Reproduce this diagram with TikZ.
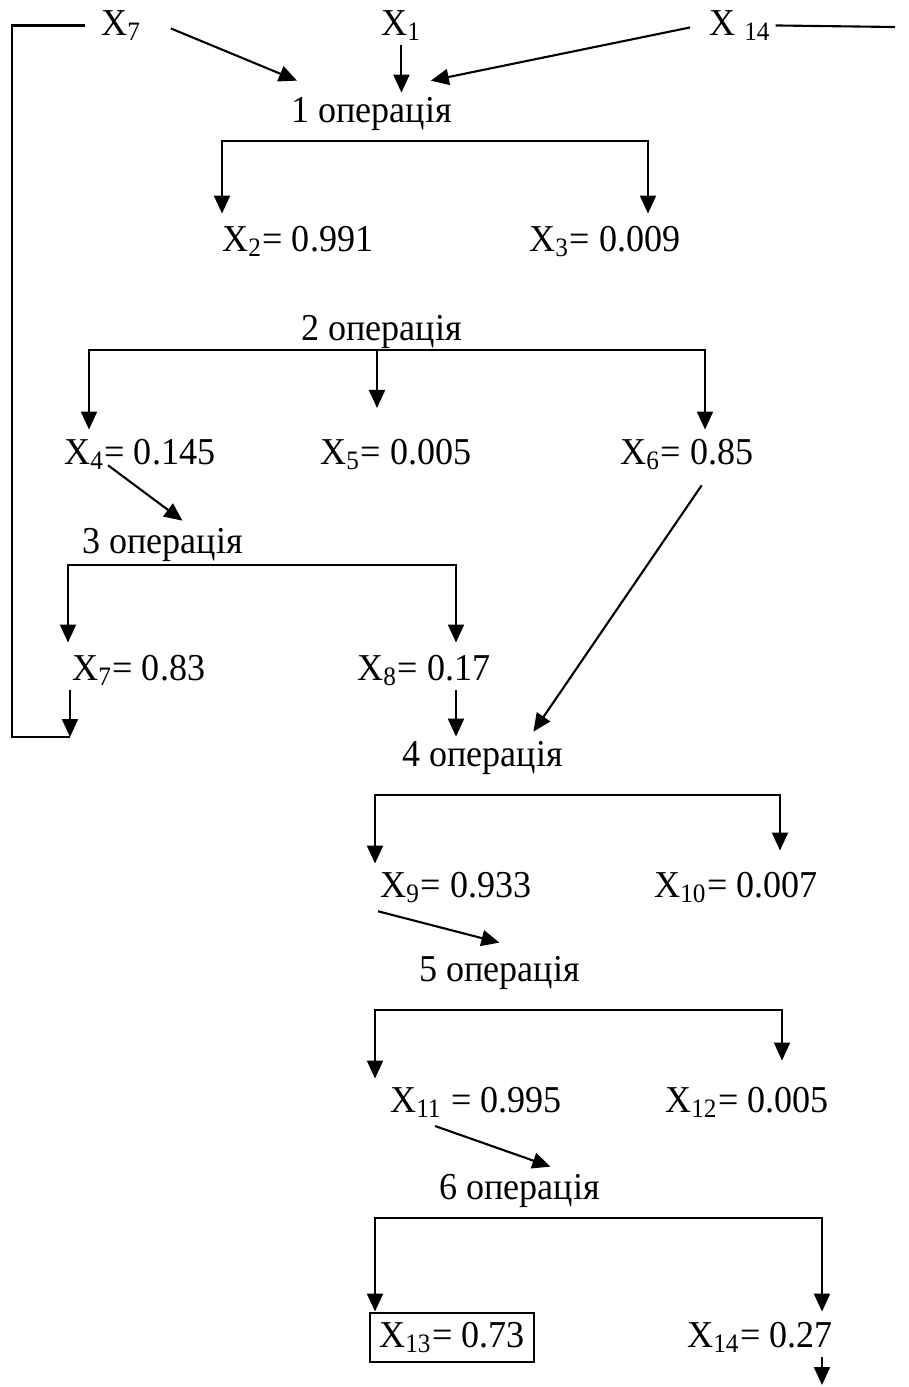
\documentclass[tikz,border=0pt]{standalone}
\usepackage{fontspec}
\setmainfont{Liberation Serif}[FakeStretch=0.95]
\usetikzlibrary{arrows.meta,calc}

\begin{document}
\begin{tikzpicture}[x=0.01cm, y=-0.01cm,
        font=\rmfamily\fontsize{10.8}{13}\selectfont,
        lbl/.style={anchor=base west, inner sep=1pt},
        res/.style={lbl, draw, line width=0.6pt, inner sep=2.6pt},
        ln/.style={line width=0.6pt},
        arr/.style={ln, -{Triangle[length=1.8mm, width=1.6mm]}}
    ]
        \useasboundingbox (0,0) rectangle (908,1387);

        % inputs
        \node[lbl] (x7t) at (97,35) {X\textsubscript{7}};
        \node[lbl] (x1) at (377,35) {X\textsubscript{1}};
        \node[lbl] (x14t) at (705,35) {X \textsubscript{14}};

        % operations
        \node[lbl] (op1) at (287,122) {1 операція};
        \node[lbl] (op2) at (297,340) {2 операція};
        \node[lbl] (op3) at (78,553) {3 операція};
        \node[lbl] (op4) at (398,766) {4 операція};
        \node[lbl] (op5) at (415,981) {5 операція};
        \node[lbl] (op6) at (435,1199) {6 операція};

        % results
        \node[lbl] (x2) at (218,251) {X\textsubscript{2}= 0.991};
        \node[lbl] (x3) at (525,251) {X\textsubscript{3}= 0.009};
        \node[lbl] (x4) at (60,464) {X\textsubscript{4}= 0.145};
        \node[lbl] (x5) at (316,464) {X\textsubscript{5}= 0.005};
        \node[lbl] (x6) at (616,464) {X\textsubscript{6}= 0.85};
        \node[lbl] (x7) at (68,680) {X\textsubscript{7}= 0.83};
        \node[lbl] (x8) at (353,680) {X\textsubscript{8}= 0.17};
        \node[lbl] (x9) at (376,897) {X\textsubscript{9}= 0.933};
        \node[lbl] (x10) at (650,897) {X\textsubscript{10}= 0.007};
        \node[lbl] (x11) at (386,1112) {X\textsubscript{11} = 0.995};
        \node[lbl] (x12) at (661,1112) {X\textsubscript{12}= 0.005};
        \node[res] (x13) at (369,1347) {X\textsubscript{13}= 0.73};
        \node[lbl] (x14) at (683,1347) {X\textsubscript{14}= 0.27};

        % bracket corners and free ends
        \coordinate (b1l) at (222,141);
        \coordinate (b1r) at (648,141);
        \coordinate (b2l) at (89,350);
        \coordinate (b2m) at (377,350);
        \coordinate (b2r) at (705,350);
        \coordinate (b2e) at (377,408);
        \coordinate (b3l) at (68,565);
        \coordinate (b3r) at (456,565);
        \coordinate (b4l) at (375,795);
        \coordinate (b4r) at (780,795);
        \coordinate (b5l) at (375,1010);
        \coordinate (b5r) at (782,1010);
        \coordinate (b6l) at (375,1218);
        \coordinate (b6r) at (822,1218);
        \coordinate (lpb) at (70,737);
        \coordinate (lpl) at (12,737);
        \coordinate (stub) at (895,27);
        \coordinate (out) at (822,1385);

        % into operation 1
        \draw[arr] ($(x7t.east)+(25,3)$) -- ($(op1.north west)+(10,-12)$);
        \draw[arr] (x1) -- (x1 |- op1.north);
        \draw[arr] ($(x14t.west)+(-15,2)$) -- ($(op1.north east)+(-25,-12)$);
        \draw[ln] (x14t.east) -- (stub);

        % operation 1
        \draw[arr] (b1r) -- (b1l) -- ($(b1l |- x2.north)+(0,-8)$);
        \draw[arr] (b1l) -- (b1r) -- ($(b1r |- x3.north)+(0,-8)$);

        % operation 2
        \draw[arr] (b2r) -- (b2l) -- ($(b2l |- x4.north)+(0,-5)$);
        \draw[arr] (b2l) -- (b2r) -- ($(b2r |- x6.north)+(0,-5)$);
        \draw[arr] (b2m) -- (b2e);
        \draw[arr] ($(x4.west)+(48,11)$) -- ($(op3.north)+(20,-3)$);
        \draw[arr] ($(x6.south)+(15,11)$) -- ($(op4.north)+(51,-5)$);

        % operation 3
        \draw[arr] (b3r) -- (b3l) -- ($(b3l |- x7.north)+(0,-8)$);
        \draw[arr] (b3l) -- (b3r) -- ($(b3r |- x8.north)+(0,-8)$);
        \draw[arr] (lpb |- x7.south) -- (lpb);
        \draw[ln] (lpb) -- (lpl) |- ($(x7t.west)+(-12,0)$);
        \draw[arr] (b3r |- x8.south) -- (b3r |- op4.north);

        % operation 4
        \draw[arr] (b4r) -- (b4l) -- ($(b4l |- x9.north)+(0,-4)$);
        \draw[arr] (b4l) -- (b4r) -- ($(b4r |- x10.north)+(0,-17)$);
        \draw[arr] ($(x9.south west)+(2,4)$) -- ($(op5.north)+(0,-9)$);

        % operation 5
        \draw[arr] (b5r) -- (b5l) -- ($(b5l |- x11.north)+(0,-4)$);
        \draw[arr] (b5l) -- (b5r) -- ($(b5r |- x12.north)+(0,-22)$);
        \draw[arr] ($(x11.south west)+(49,4)$) -- ($(op6.north)+(31,-3)$);

        % operation 6
        \draw[arr] (b6r) -- (b6l) -- (b6l |- x13.north);
        \draw[arr] (b6l) -- (b6r) -- (b6r |- x13.north);
        \draw[arr] (b6r |- x14.south) -- (out);
    \end{tikzpicture}
\end{document}
